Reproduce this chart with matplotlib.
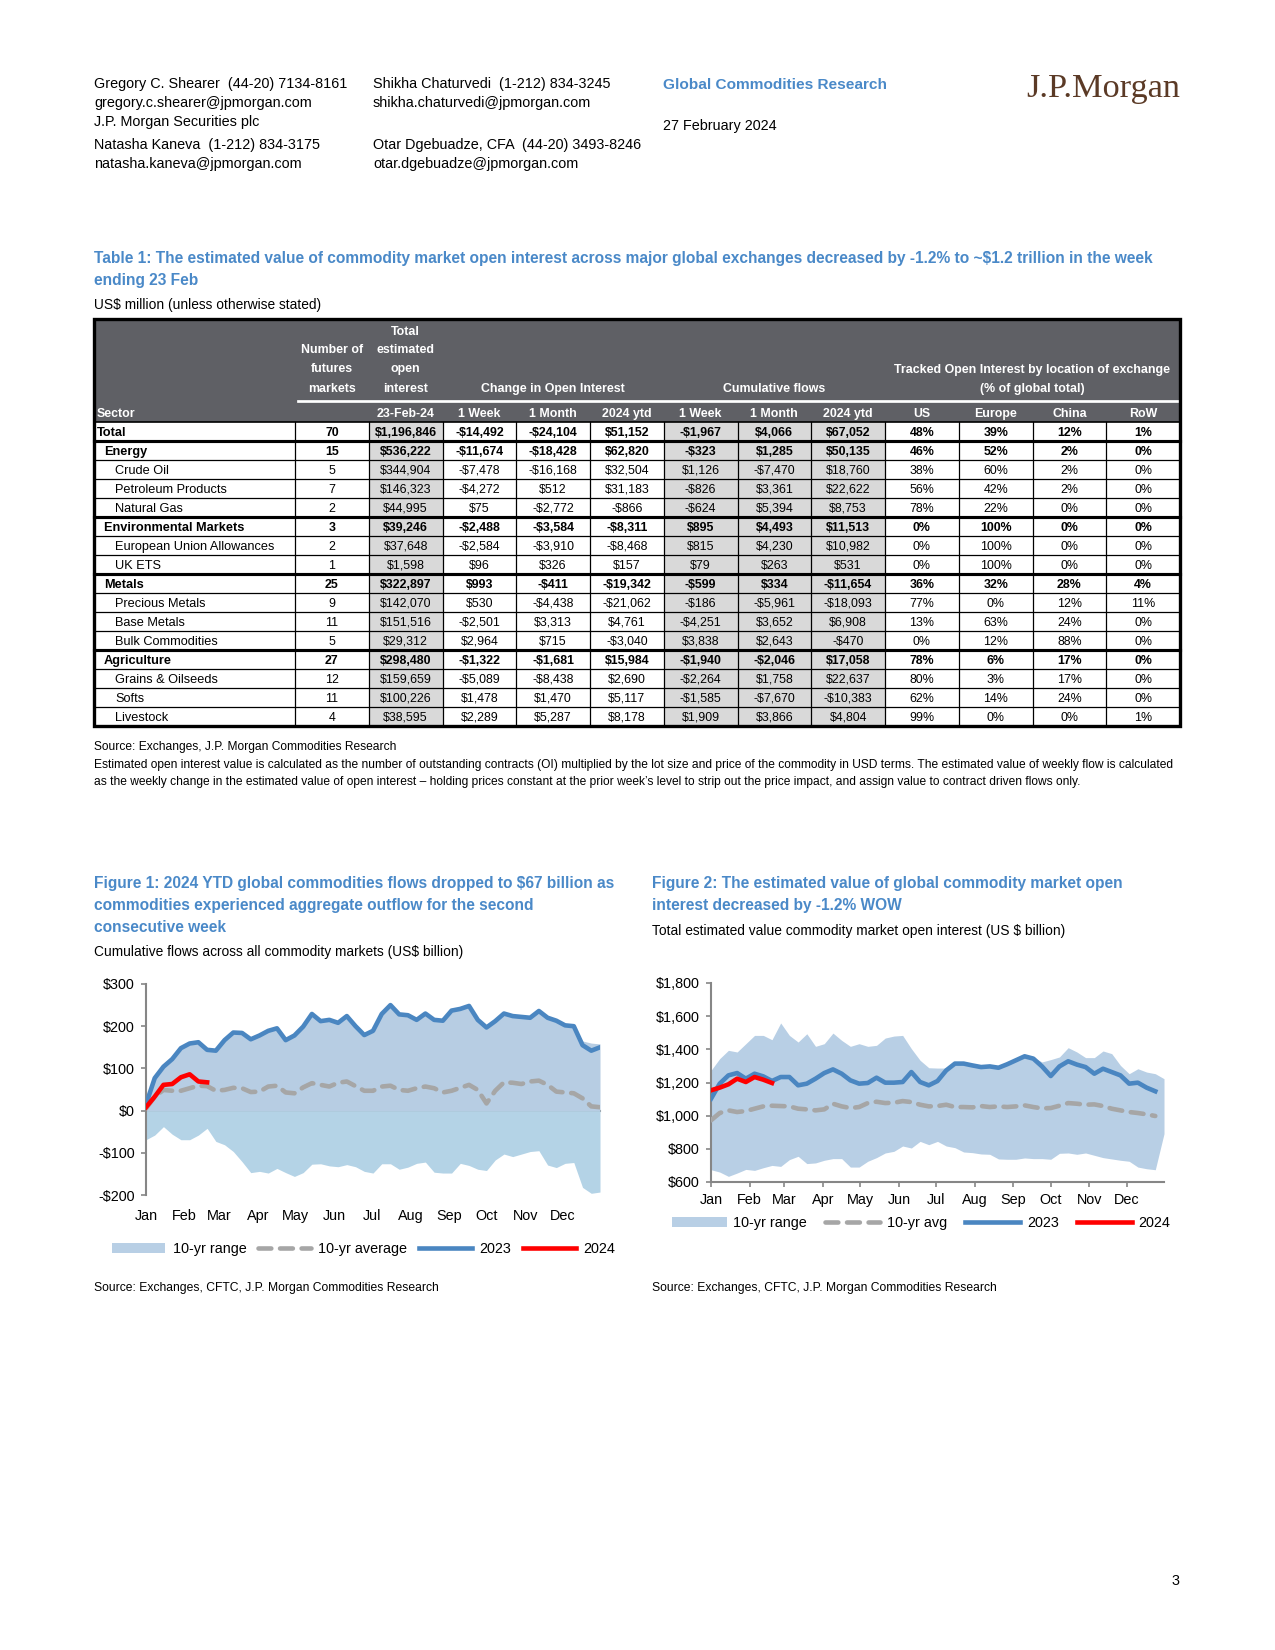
import matplotlib
matplotlib.use('Agg')
import matplotlib.pyplot as plt
from matplotlib import font_manager
from matplotlib.patches import Rectangle, Patch
from matplotlib.lines import Line2D
import numpy as np

# ---------------- data ----------------
sectors = ["Total", "Energy", "Crude Oil", "Petroleum Products", "Natural Gas",
           "Environmental Markets", "European Union Allowances", "UK ETS",
           "Metals", "Precious Metals", "Base Metals", "Bulk Commodities",
           "Agriculture", "Grains & Oilseeds", "Softs", "Livestock"]
levels = [0, 1, 2, 2, 2, 1, 2, 2, 1, 2, 2, 2, 1, 2, 2, 2]
n_markets = [70, 15, 5, 7, 2, 3, 2, 1, 25, 9, 11, 5, 27, 12, 11, 4]
oi_total = [1196846, 536222, 344904, 146323, 44995, 39246, 37648, 1598,
            322897, 142070, 151516, 29312, 298480, 159659, 100226, 38595]
chg_1w = [-14492, -11674, -7478, -4272, 75, -2488, -2584, 96,
          993, 530, -2501, 2964, -1322, -5089, 1478, 2289]
chg_1m = [-24104, -18428, -16168, 512, -2772, -3584, -3910, 326,
          -411, -4438, 3313, 715, -1681, -8438, 1470, 5287]
chg_ytd = [51152, 62820, 32504, 31183, -866, -8311, -8468, 157,
           -19342, -21062, 4761, -3040, 15984, 2690, 5117, 8178]
flow_1w = [-1967, -323, 1126, -826, -624, 895, 815, 79,
           -599, -186, -4251, 3838, -1940, -2264, -1585, 1909]
flow_1m = [4066, 1285, -7470, 3361, 5394, 4493, 4230, 263,
           334, -5961, 3652, 2643, -2046, 1758, -7670, 3866]
flow_ytd = [67052, 50135, 18760, 22622, 8753, 11513, 10982, 531,
            -11654, -18093, 6908, -470, 17058, 22637, -10383, 4804]
pct_us = [48, 46, 38, 56, 78, 0, 0, 0, 36, 77, 13, 0, 78, 80, 62, 99]
pct_eu = [39, 52, 60, 42, 22, 100, 100, 100, 32, 0, 63, 12, 6, 3, 14, 0]
pct_cn = [12, 2, 2, 2, 0, 0, 0, 0, 28, 12, 24, 88, 17, 17, 24, 0]
pct_row = [1, 0, 0, 0, 0, 0, 0, 0, 4, 11, 0, 0, 0, 0, 0, 1]
sub_headers = ["23-Feb-24", "1 Week", "1 Month", "2024 ytd", "1 Week", "1 Month",
               "2024 ytd", "US", "Europe", "China", "RoW"]

months = ["Jan", "Feb", "Mar", "Apr", "May", "Jun", "Jul", "Aug", "Sep", "Oct", "Nov", "Dec"]
month_start_day = [0, 31, 59, 90, 120, 151, 181, 212, 243, 273, 304, 334]

# Figure 1: cumulative flows (US$ bn), weekly
f1_range_hi = [15, 77, 104, 122, 148, 159, 162, 144, 142, 167, 185, 184, 169, 178, 189, 195,
               167, 178, 199, 229, 212, 215, 208, 224, 200, 179, 189, 229, 250, 228, 226, 215,
               230, 215, 213, 237, 241, 248, 215, 197, 212, 230, 224, 222, 220, 236, 220, 213,
               202, 200, 165, 160, 158]
f1_range_lo = [-69, -58, -38, -56, -69, -69, -58, -42, -73, -81, -97, -121, -147, -144, -148, -137,
               -147, -156, -147, -127, -126, -131, -133, -128, -133, -144, -148, -126, -126, -139,
               -134, -125, -122, -146, -148, -148, -125, -130, -139, -142, -117, -103, -109, -103,
               -97, -95, -129, -135, -125, -123, -182, -196, -193]
f1_avg = [5, 33, 49, 47, 47, 53, 59, 58, 47, 49, 54, 53, 44, 45, 57, 59, 43, 41, 55, 65, 61, 57,
          66, 69, 58, 47, 47, 57, 59, 49, 47, 53, 57, 53, 43, 47, 54, 61, 49, 17, 47, 67, 66, 63,
          69, 71, 61, 45, 43, 41, 29, 10, 8]
f1_2023 = [15, 77, 104, 122, 148, 159, 162, 144, 142, 167, 185, 184, 169, 178, 189, 195, 167,
           178, 199, 229, 212, 215, 208, 224, 200, 179, 189, 229, 250, 228, 226, 215, 230, 215,
           213, 237, 241, 248, 215, 197, 212, 230, 224, 222, 220, 236, 220, 213, 202, 200, 155,
           142, 150]
f1_2024 = [8, 33, 61, 63, 79, 86, 69, 67]

# Figure 2: total open interest (US$ bn), weekly
f2_range_hi = [1273, 1344, 1394, 1384, 1434, 1484, 1484, 1458, 1559, 1484, 1444, 1494, 1418, 1434,
               1498, 1454, 1418, 1434, 1418, 1424, 1468, 1480, 1484, 1404, 1334, 1289, 1287, 1287,
               1308, 1314, 1310, 1300, 1310, 1300, 1315, 1335, 1360, 1350, 1324, 1338, 1354, 1410,
               1384, 1350, 1350, 1390, 1374, 1303, 1253, 1283, 1263, 1253, 1223]
f2_range_lo = [674, 660, 634, 654, 676, 670, 686, 700, 694, 735, 755, 711, 715, 731, 741, 741, 690,
               690, 725, 747, 775, 785, 817, 805, 845, 825, 845, 817, 807, 781, 777, 769, 767, 739,
               737, 737, 745, 741, 741, 737, 773, 775, 767, 775, 761, 747, 739, 731, 725, 690, 680,
               674, 891]
f2_avg = [972, 1016, 1032, 1022, 1028, 1042, 1056, 1060, 1058, 1056, 1042, 1038, 1032, 1038, 1072,
          1056, 1046, 1052, 1076, 1084, 1076, 1078, 1088, 1082, 1066, 1056, 1058, 1066, 1052, 1052,
          1050, 1058, 1052, 1056, 1052, 1056, 1062, 1052, 1044, 1046, 1060, 1076, 1072, 1066, 1068,
          1058, 1042, 1032, 1022, 1016, 1008, 998]
f2_2023 = [1102, 1193, 1243, 1257, 1223, 1253, 1237, 1209, 1233, 1233, 1183, 1193, 1223, 1257, 1279,
           1253, 1213, 1193, 1197, 1229, 1199, 1199, 1203, 1263, 1203, 1183, 1209, 1273, 1314, 1314,
           1303, 1293, 1297, 1289, 1310, 1334, 1358, 1344, 1297, 1239, 1297, 1328, 1308, 1293, 1253,
           1283, 1263, 1243, 1193, 1199, 1169, 1147]
f2_2024 = [1153, 1169, 1189, 1223, 1203, 1233, 1217, 1197]

# ---------------- fonts / styles ----------------
names = {f.name for f in font_manager.fontManager.ttflist}
SANS = 'Liberation Sans'
NARROW = 'Liberation Sans Narrow' if 'Liberation Sans Narrow' in names else None
NF = NARROW if NARROW else SANS
NSC = 1.0 if NARROW else 0.85
SERIF = 'Liberation Serif'

TBLUE = '#4a89c8'
LBLUE = '#4a86c1'
RED = '#ff0000'
DGRAY = '#a6a6a6'
AXG = '#868686'
HDR = '#5f6065'
SHADE = '#d9d9d9'

W, H = 1275, 1650
DPI = 150
fig = plt.figure(figsize=(W / DPI, H / DPI), dpi=DPI)
pg = fig.add_axes([0, 0, 1, 1])
pg.set_xlim(0, W)
pg.set_ylim(H, 0)
pg.axis('off')


def txt(x, yc, s, size, ha='left', weight='normal', color='black', family=SANS, zorder=5):
    em = size * DPI / 72.0
    pg.text(x, yc + 0.36 * em, s, fontsize=size, ha=ha, va='baseline', fontweight=weight,
            color=color, family=family, zorder=zorder)


def ntxt(x, yc, s, size, **kw):
    txt(x, yc, s, size * NSC, family=NF, **kw)


# ---------------- page header ----------------
hs = 6.9
txt(94, 83, "Gregory C. Shearer  (44-20) 7134-8161", hs)
txt(94, 102, "gregory.c.shearer@jpmorgan.com", hs)
txt(94, 121, "J.P. Morgan Securities plc", hs)
txt(94, 144, "Natasha Kaneva  (1-212) 834-3175", hs)
txt(94, 163, "natasha.kaneva@jpmorgan.com", hs)
txt(373, 83, "Shikha Chaturvedi  (1-212) 834-3245", hs)
txt(373, 102, "shikha.chaturvedi@jpmorgan.com", hs)
txt(373, 144, "Otar Dgebuadze, CFA  (44-20) 3493-8246", hs)
txt(373, 163, "otar.dgebuadze@jpmorgan.com", hs)
txt(663, 83, "Global Commodities Research", 7.4, weight='bold', color=TBLUE)
txt(663, 125, "27 February 2024", hs)
pg.text(1180, 97, "J.P.Morgan", fontsize=16.5, family=SERIF, color='#5b3a26',
        ha='right', va='baseline')

# ---------------- table title ----------------
tsz = 8.75
ntxt(94, 257, "Table 1: The estimated value of commodity market open interest across major global "
     "exchanges decreased by -1.2% to ~$1.2 trillion in the week", tsz, weight='bold', color=TBLUE)
ntxt(94, 279, "ending 23 Feb", tsz, weight='bold', color=TBLUE)
txt(94, 304, "US$ million (unless otherwise stated)", 6.6)

# ---------------- table ----------------
TL, TR, TT, TB = 94, 1180, 319, 726
SEC_W = 295
NCOL = 12
cw = (TR - SEC_W) / NCOL
col_x = [SEC_W + i * cw for i in range(NCOL + 1)]
cc = [col_x[i] + cw / 2 for i in range(NCOL)]
HDR_B = 422
NROW = len(sectors)
rh = (TB - HDR_B) / NROW

pg.add_patch(Rectangle((TL, TT), TR - TL, HDR_B - TT, fc=HDR, ec='none', zorder=1))
for c in [1, 5, 6, 7]:
    pg.add_patch(Rectangle((col_x[c], HDR_B), cw, TB - HDR_B, fc=SHADE, ec='none', zorder=1))
for x in col_x:
    pg.plot([x, x], [HDR_B, TB], color='black', lw=0.6, zorder=3)
pg.plot([TL, TR], [HDR_B, HDR_B], color='black', lw=0.8, zorder=3)
for i in range(1, NROW):
    y = HDR_B + i * rh
    thick = levels[i] <= 1
    pg.plot([TL, TR], [y, y], color='black', lw=1.5 if thick else 0.6, zorder=3)
pg.add_patch(Rectangle((TL, TT), TR - TL, TB - TT, fill=False, ec='black', lw=1.6, zorder=4))
pg.plot([SEC_W + 3, TR - 1], [401, 401], color='white', lw=1.3, zorder=3)

hsz = 7.0
W_ = 'white'
ntxt(cc[0], 349, "Number of", hsz, ha='center', weight='bold', color=W_)
ntxt(cc[0], 368, "futures", hsz, ha='center', weight='bold', color=W_)
ntxt(cc[0], 388, "markets", hsz, ha='center', weight='bold', color=W_)
ntxt(cc[1], 331, "Total", hsz, ha='center', weight='bold', color=W_)
ntxt(cc[1], 349, "estimated", hsz, ha='center', weight='bold', color=W_)
ntxt(cc[1], 368, "open", hsz, ha='center', weight='bold', color=W_)
ntxt(cc[1], 388, "interest", hsz, ha='center', weight='bold', color=W_)
ntxt((col_x[2] + col_x[5]) / 2, 388, "Change in Open Interest", hsz, ha='center', weight='bold', color=W_)
ntxt((col_x[5] + col_x[8]) / 2, 388, "Cumulative flows", hsz, ha='center', weight='bold', color=W_)
ntxt((col_x[8] + col_x[12]) / 2, 369, "Tracked Open Interest by location of exchange", hsz,
     ha='center', weight='bold', color=W_)
ntxt((col_x[8] + col_x[12]) / 2, 388, "(% of global total)", hsz, ha='center', weight='bold', color=W_)
ntxt(97, 413, "Sector", hsz, weight='bold', color=W_)
for j, s in enumerate(sub_headers):
    ntxt(cc[j + 1], 413, s, hsz, ha='center', weight='bold', color=W_)


def usd(v):
    s = "${:,}".format(abs(v))
    return "-" + s if v < 0 else s


indent = {0: 97, 1: 104, 2: 115}
dsz = 7.0
for i, name in enumerate(sectors):
    yc = HDR_B + (i + 0.5) * rh
    wt = 'bold' if levels[i] <= 1 else 'normal'
    ntxt(indent[levels[i]], yc, name, 7.2, weight=wt)
    vals = [str(n_markets[i]), usd(oi_total[i]), usd(chg_1w[i]), usd(chg_1m[i]), usd(chg_ytd[i]),
            usd(flow_1w[i]), usd(flow_1m[i]), usd(flow_ytd[i]),
            f"{pct_us[i]}%", f"{pct_eu[i]}%", f"{pct_cn[i]}%", f"{pct_row[i]}%"]
    for j, v in enumerate(vals):
        ntxt(cc[j], yc, v, dsz, ha='center', weight=wt)

fsz = 6.8
ntxt(94, 746, "Source: Exchanges, J.P. Morgan Commodities Research", fsz)
ntxt(94, 764, "Estimated open interest value is calculated as the number of outstanding contracts (OI) "
     "multiplied by the lot size and price of the commodity in USD terms. The estimated value of weekly "
     "flow is calculated", fsz)
ntxt(94, 781, "as the weekly change in the estimated value of open interest \u2013 holding prices constant at "
     "the prior week\u2019s level to strip out the price impact, and assign value to contract driven flows only.", fsz)

# ---------------- figure titles ----------------
ftsz = 8.75
ntxt(94, 882, "Figure 1: 2024 YTD global commodities flows dropped to $67 billion as", ftsz,
     weight='bold', color=TBLUE)
ntxt(94, 904, "commodities experienced aggregate outflow for the second", ftsz, weight='bold', color=TBLUE)
ntxt(94, 926, "consecutive week", ftsz, weight='bold', color=TBLUE)
txt(94, 951, "Cumulative flows across all commodity markets (US$ billion)", 6.6)

ntxt(652, 882, "Figure 2: The estimated value of global commodity market open", ftsz,
     weight='bold', color=TBLUE)
ntxt(652, 904, "interest decreased by -1.2% WOW", ftsz, weight='bold', color=TBLUE)
txt(652, 930, "Total estimated value commodity market open interest (US $ billion)", 6.6)

txt(94, 1287, "Source: Exchanges, CFTC, J.P. Morgan Commodities Research", 5.8)
txt(652, 1287, "Source: Exchanges, CFTC, J.P. Morgan Commodities Research", 5.8)
txt(1180, 1580, "3", 6.9, ha='right')

# ---------------- charts ----------------
lsz = 6.9


def add_ax(l, t, r, b):
    return fig.add_axes([l / W, 1 - b / H, (r - l) / W, (b - t) / H])


# Figure 1
ax1 = add_ax(146, 984, 600, 1195)
d1 = np.arange(len(f1_range_hi)) * 7
hi1 = np.array(f1_range_hi)
lo1 = np.array(f1_range_lo)
ax1.fill_between(d1, np.maximum(lo1, 0), hi1, color='#b7cde3', lw=0, zorder=1)
ax1.fill_between(d1, lo1, np.minimum(hi1, 0), color='#b4d3e6', lw=0, zorder=1)
ax1.plot(d1, f1_avg, color=DGRAY, lw=2.2, dashes=(2.8, 1.9), dash_capstyle='round', zorder=3)
ax1.plot(d1, f1_2023, color=LBLUE, lw=2.2, solid_joinstyle='round', zorder=4)
ax1.plot(np.arange(len(f1_2024)) * 7, f1_2024, color=RED, lw=2.2, solid_joinstyle='round', zorder=5)
ax1.set_xlim(0, 364)
ax1.set_ylim(-200, 300)
ax1.set_yticks([-200, -100, 0, 100, 200, 300])
ax1.set_yticklabels([usd(v) for v in [-200, -100, 0, 100, 200, 300]])
ax1.set_xticks(month_start_day)
ax1.set_xticklabels(months)
ax1.tick_params(axis='x', length=0, pad=6.5, labelsize=lsz)
ax1.tick_params(axis='y', length=2.5, width=0.8, color=AXG, pad=3, labelsize=lsz, direction='out')
for s in ['top', 'right', 'bottom']:
    ax1.spines[s].set_visible(False)
ax1.spines['left'].set_color(AXG)
ax1.spines['left'].set_linewidth(1.0)
ax1.patch.set_alpha(0)
sec = ax1.secondary_xaxis(0.4)
sec.set_xticks(month_start_day[1:])
sec.tick_params(axis='x', length=2.5, width=0.8, color=AXG, labelbottom=False, direction='out')
sec.spines['bottom'].set_color(AXG)
sec.spines['bottom'].set_linewidth(1.0)
for lab in ax1.get_xticklabels() + ax1.get_yticklabels():
    lab.set_family(SANS)

# Figure 2
ax2 = add_ax(711, 983, 1164, 1182)
d2 = np.arange(len(f2_range_hi)) * 7
ax2.fill_between(d2, f2_range_lo, f2_range_hi, color='#b8cfe5', lw=0, zorder=1)
ax2.plot(np.arange(len(f2_avg)) * 7, f2_avg, color=DGRAY, lw=2.2, dashes=(2.8, 1.9),
         dash_capstyle='round', zorder=3)
ax2.plot(np.arange(len(f2_2023)) * 7, f2_2023, color=LBLUE, lw=2.2, solid_joinstyle='round', zorder=4)
ax2.plot(np.arange(len(f2_2024)) * 7, f2_2024, color=RED, lw=2.2, solid_joinstyle='round', zorder=5)
ax2.set_xlim(0, 364)
ax2.set_ylim(600, 1800)
yt2 = list(range(600, 1801, 200))
ax2.set_yticks(yt2)
ax2.set_yticklabels([usd(v) for v in yt2])
ax2.set_xticks(month_start_day)
ax2.set_xticklabels(months)
ax2.tick_params(axis='x', length=2.5, width=0.8, color=AXG, pad=3, labelsize=lsz, direction='out')
ax2.tick_params(axis='y', length=2.5, width=0.8, color=AXG, pad=3, labelsize=lsz, direction='out')
for s in ['top', 'right']:
    ax2.spines[s].set_visible(False)
for s in ['left', 'bottom']:
    ax2.spines[s].set_color(AXG)
    ax2.spines[s].set_linewidth(1.0)
ax2.patch.set_alpha(0)
for lab in ax2.get_xticklabels() + ax2.get_yticklabels():
    lab.set_family(SANS)


# Legends
def legend_handles(avg_label):
    return ([Patch(facecolor='#b8cfe5', edgecolor='none'),
             Line2D([], [], color=DGRAY, lw=2.2, dashes=(2.8, 1.9), dash_capstyle='round'),
             Line2D([], [], color=LBLUE, lw=2.2),
             Line2D([], [], color=RED, lw=2.2)],
            ["10-yr range", avg_label, "2023", "2024"])


h, l = legend_handles("10-yr average")
fig.legend(h, l, loc='center', bbox_to_anchor=((114 + 613) / 2 / W, 1 - 1249 / H), ncol=4,
           frameon=False, handlelength=3.7, handletextpad=0.5, columnspacing=0.8,
           prop={'family': SANS, 'size': lsz})
h, l = legend_handles("10-yr avg")
fig.legend(h, l, loc='center', bbox_to_anchor=((674 + 1168) / 2 / W, 1 - 1223 / H), ncol=4,
           frameon=False, handlelength=3.85, handletextpad=0.45, columnspacing=1.25,
           prop={'family': SANS, 'size': lsz})

fig.savefig('out.png', dpi=DPI)
